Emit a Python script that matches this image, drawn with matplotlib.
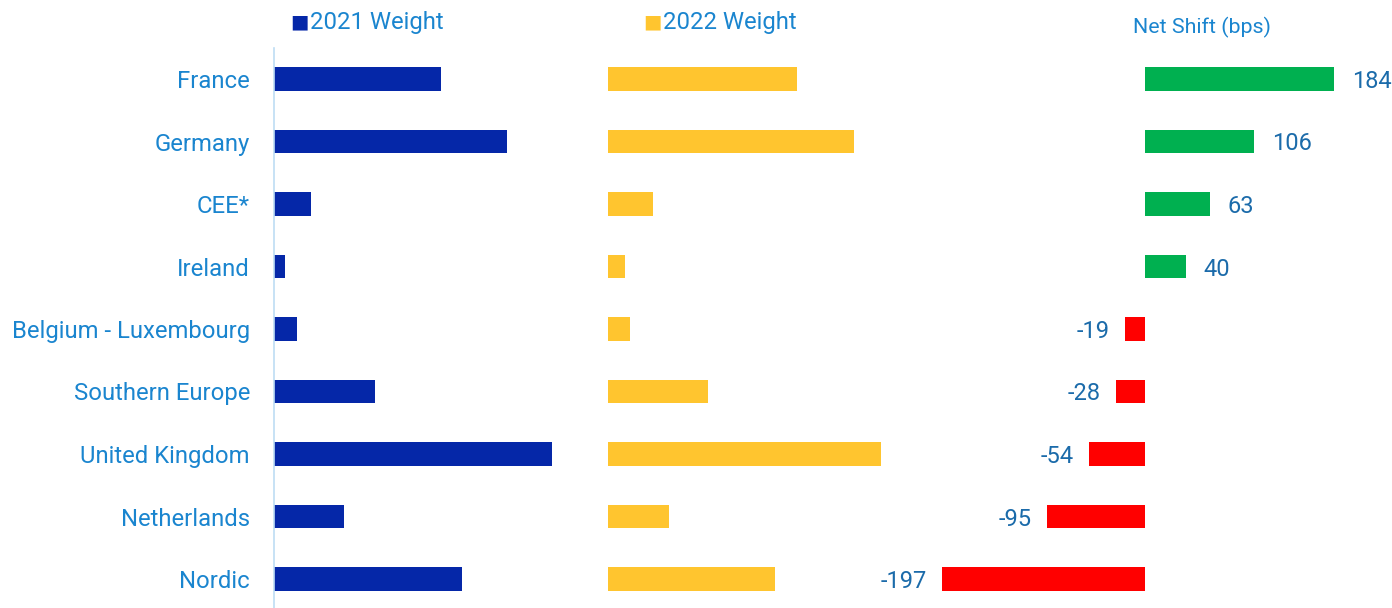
import matplotlib.pyplot as plt
import numpy as np

plt.rcParams['font.family'] = ['Roboto', 'DejaVu Sans']

# data
regions = ['France', 'Germany', 'CEE*', 'Ireland', 'Belgium - Luxembourg',
           'Southern Europe', 'United Kingdom', 'Netherlands', 'Nordic']
w2021 = [15.1, 21.0, 3.3, 1.0, 2.1, 9.1, 25.1, 6.3, 17.0]
w2022 = [17.1, 22.2, 4.1, 1.5, 2.0, 9.0, 24.6, 5.5, 15.1]
shift = [184, 106, 63, 40, -19, -28, -54, -95, -197]

blue = '#0527A8'
yellow = '#FFC52F'
green = '#00B050'
red = '#FF0000'
lab_col = '#1A85CF'
val_col = '#1B6BAA'

W, H = 1392, 608
fig = plt.figure(figsize=(W / 100, H / 100), dpi=100)

y = np.arange(len(regions))
top = 48
ylim = (8.464, -0.496)
bh = 0.37

def px_axes(x0, x1):
    return fig.add_axes([x0 / W, 0, (x1 - x0) / W, (H - top) / H])

# 2021 panel
ax1 = px_axes(274, 590)
ax1.barh(y, w2021, height=bh, color=blue)
ax1.set_xlim(0, 316 / 11.08)
ax1.set_ylim(*ylim)
ax1.set_yticks(y)
ax1.set_yticklabels(regions, fontsize=17.2, color=lab_col, va='center_baseline')
ax1.tick_params(axis='y', length=0, pad=17.3)
ax1.set_xticks([])
for s in ['top', 'right', 'bottom']:
    ax1.spines[s].set_visible(False)
ax1.spines['left'].set_color('#BDDDF4')
ax1.spines['left'].set_linewidth(1.2)

# 2022 panel
ax2 = px_axes(608, 924)
ax2.barh(y, w2022, height=bh, color=yellow)
ax2.set_xlim(0, 316 / 11.08)
ax2.set_ylim(*ylim)
ax2.axis('off')

# net shift panel
ax3 = px_axes(900, 1392)
cols = [green if v > 0 else red for v in shift]
ax3.barh(y, shift, height=bh, color=cols)
ax3.set_xlim(-238, 240)
ax3.set_ylim(*ylim)
ax3.axis('off')
for yi, v in zip(y, shift):
    if v > 0:
        ax3.text(v + 17, yi, str(v), va='center_baseline', ha='left', fontsize=17, color=val_col)
    else:
        ax3.text(v - 15, yi, str(v), va='center_baseline', ha='right', fontsize=17, color=val_col)

# legend-like headers
fig.text(290 / W, 1 - 20 / H, '\u25A0', fontsize=14, color=blue, va='center_baseline', ha='left')
fig.text(310 / W, 1 - 20 / H, '2021 Weight', fontsize=17.2, color=lab_col, va='center_baseline', ha='left')
fig.text(643 / W, 1 - 20 / H, '\u25A0', fontsize=14, color=yellow, va='center_baseline', ha='left')
fig.text(663 / W, 1 - 20 / H, '2022 Weight', fontsize=17.2, color=lab_col, va='center_baseline', ha='left')
fig.text(1133 / W, 1 - 25 / H, 'Net Shift (bps)', fontsize=15.4, color=lab_col, va='center_baseline', ha='left')

fig.savefig('out.png', dpi=100)
